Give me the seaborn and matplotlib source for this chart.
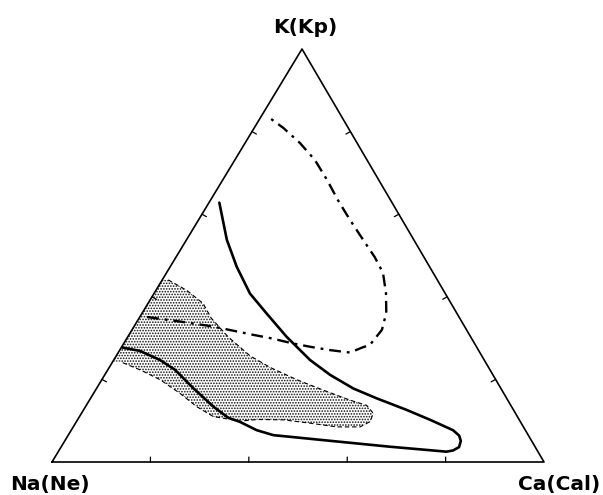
import matplotlib
matplotlib.use("Agg")
import matplotlib.pyplot as plt
import seaborn as sns

# Compositions are in percent: K toward the apex, Ca toward the lower right,
# Na is the remainder (lower left).
corner_labels = ["Na(Ne)", "Ca(Cal)", "K(Kp)"]
tick_values = [20, 40, 60, 80]

# dash-dot boundary
dashdot_k = [35.1, 34.0, 32.8, 30.8, 30.0, 28.7, 27.9, 27.1, 26.5, 27.8, 28.3,
             32.0, 36.1, 40.9, 45.8, 49.6, 53.8, 58.6, 63.4, 68.3, 73.1, 77.2,
             80.9, 83.8]
dashdot_ca = [1.5, 8.8, 16.1, 25.2, 29.1, 34.4, 38.3, 42.7, 47.1, 49.1, 50.2,
              50.8, 49.6, 47.1, 44.0, 40.4, 35.9, 30.8, 25.9, 21.2, 16.3, 11.2,
              5.9, 1.1]

# solid boundary
solid_k = [62.8, 53.8, 47.3, 40.8, 36.0, 30.3, 24.7, 21.1, 17.8, 15.4, 12.6,
           10.2, 7.7, 6.4, 5.1, 3.6, 2.8, 2.5, 3.0, 3.7, 4.5, 5.3, 6.1, 6.5,
           7.7, 9.7, 10.7, 13.4, 17.9, 22.3, 24.7, 26.9, 27.7]
solid_ca = [2.1, 8.2, 13.5, 19.5, 25.3, 32.3, 39.9, 45.8, 52.2, 58.2, 65.7,
            71.7, 77.6, 79.5, 80.5, 80.9, 80.1, 78.9, 73.9, 66.8, 59.6, 52.4,
            45.3, 41.7, 37.7, 33.3, 30.4, 26.0, 19.6, 13.7, 9.4, 4.2, 0.3]

# stippled field, dashed outline
field_k = [44.1, 41.6, 38.4, 34.9, 30.3, 25.7, 22.9, 19.9, 17.4, 15.0, 13.7,
           11.8, 9.8, 8.5, 8.5, 9.4, 10.2, 10.3, 9.9, 11.0, 13.4, 16.6, 19.9,
           22.3, 24.3]
field_ca = [1.2, 6.2, 11.2, 14.6, 20.4, 27.2, 32.7, 39.7, 46.3, 52.9, 57.0,
            59.3, 59.7, 58.3, 53.5, 47.7, 41.9, 36.6, 33.2, 27.2, 22.6, 17.6,
            11.9, 6.6, 1.5]

# Corner positions of the diagram in figure pixels
NA = (52.0, 462.0)
CA = (544.0, 462.0)
KP = (302.0, 49.0)


def to_xy(k, ca):
    """Ternary (K %, Ca %) -> drawing coordinates."""
    xs, ys = [], []
    for kk, cc in zip(k, ca):
        a, b = kk / 100.0, cc / 100.0
        xs.append(NA[0] + (CA[0] - NA[0]) * b + (KP[0] - NA[0]) * a)
        ys.append(NA[1] + (CA[1] - NA[1]) * b + (KP[1] - NA[1]) * a)
    return xs, ys


sns.set_theme(style="white")
plt.rcParams["font.family"] = ["DejaVu Sans"]

fig = plt.figure(figsize=(6.03, 4.95), dpi=100)
ax = fig.add_axes([0, 0, 1, 1])
ax.set_xlim(0, 603)
ax.set_ylim(495, 0)
ax.set_axis_off()

# frame of the triangle
tx, ty = to_xy([0, 0, 100, 0], [0, 100, 0, 0])
sns.lineplot(x=tx, y=ty, sort=False, estimator=None, color="black",
             lw=1.2, ax=ax)

# small inward ticks every 20 %
tick_len = 1.2
for v in tick_values:
    for (k0, c0), (k1, c1) in [
        ((0, v), (tick_len, v - tick_len / 2)),             # Na-Ca side
        ((v, 0), (v - tick_len / 2, tick_len)),             # Na-K side
        ((v, 100 - v), (v - tick_len / 2, 100 - v - tick_len / 2)),  # K-Ca side
    ]:
        xs, ys = to_xy([k0, k1], [c0, c1])
        ax.plot(xs, ys, color="black", lw=0.9)

# stippled field: fill closed along the Na-K side
fx, fy = to_xy(field_k, field_ca)
ex, ey = to_xy([field_k[-1], field_k[0]], [0, 0])
plt.rcParams["hatch.linewidth"] = 0.8
ax.fill(fx + ex, fy + ey, facecolor="none", edgecolor="#111111", lw=0,
        hatch="......")
sns.lineplot(x=fx, y=fy, sort=False, estimator=None, color="black", lw=0.8,
             linestyle=(0, (4, 2.5)), ax=ax)

# solid boundary
sx, sy = to_xy(solid_k, solid_ca)
sns.lineplot(x=sx, y=sy, sort=False, estimator=None, color="black", lw=1.9,
             ax=ax)

# dash-dot boundary
dx, dy = to_xy(dashdot_k, dashdot_ca)
sns.lineplot(x=dx, y=dy, sort=False, estimator=None, color="black", lw=1.7,
             linestyle=(0, (5, 2.5, 1.2, 2.5)), ax=ax)

# corner labels
label_kw = dict(fontsize=14.5, fontweight="bold", color="black",
                va="baseline")
ax.text(10, 490, corner_labels[0], ha="left", **label_kw)
ax.text(600, 490, corner_labels[1], ha="right", **label_kw)
ax.text(305, 33, corner_labels[2], ha="center", **label_kw)

fig.savefig("out.png", dpi=100)
